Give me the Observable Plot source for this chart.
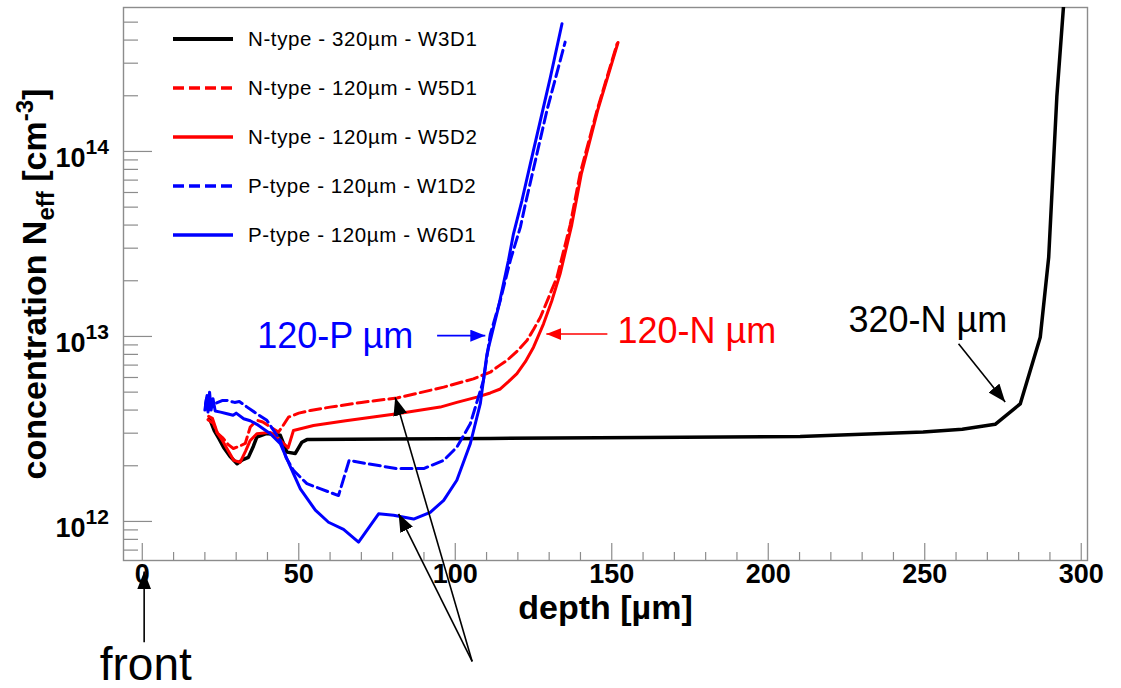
<!DOCTYPE html>
<html>
<head>
<meta charset="utf-8">
<script src="https://cdn.jsdelivr.net/npm/d3@7"></script>
<script src="https://cdn.jsdelivr.net/npm/@observablehq/plot@0.6"></script>
<style>
  body { margin: 0; background: #fff; }
  #chart { position: relative; width: 1121px; height: 688px; font-family: "Liberation Sans", Arial, Helvetica, sans-serif; }
  #legend { position: absolute; left: 0; top: 0; pointer-events: none; }
</style>
</head>
<body>
<div id="chart"></div>
<script>
// Effective doping concentration profiles, [depth in µm, N_eff in cm^-3]
const nW3D1 = [
  [21.5, 3.6e12], [23.0, 3.1e12], [24.5, 2.8e12], [26.0, 2.51e12], [28.0, 2.25e12],
  [30.3, 2.05e12], [32.0, 2.15e12], [33.9, 2.22e12], [35.5, 2.55e12], [36.6, 2.86e12],
  [39.8, 2.99e12], [44.1, 2.92e12], [46.2, 2.37e12], [48.9, 2.33e12], [51.0, 2.68e12],
  [52.6, 2.77e12], [80.0, 2.79e12], [111.2, 2.81e12], [160.0, 2.84e12], [210.2, 2.88e12],
  [249.5, 3.04e12], [262.0, 3.15e12], [272.5, 3.35e12], [280.5, 4.32e12], [286.9, 9.9e12],
  [289.6, 2.68e13], [292.2, 1.97e14], [294.6, 7.0e14]
];
const nW5D1 = [
  [21.0, 3.55e12], [22.7, 3.39e12], [24.0, 3.0e12], [25.6, 2.84e12], [27.5, 2.6e12],
  [29.1, 2.48e12], [31.0, 2.55e12], [32.9, 2.64e12], [34.5, 3.24e12], [36.6, 3.52e12],
  [38.5, 3.45e12], [40.9, 3.24e12], [43.5, 3.04e12], [45.0, 3.3e12], [46.7, 3.66e12],
  [50.0, 3.85e12], [53.7, 3.98e12], [60.0, 4.15e12], [70.0, 4.4e12], [81.4, 4.65e12],
  [96.3, 5.32e12], [105.8, 5.9e12], [111.2, 6.41e12], [113.7, 6.89e12], [116.5, 7.41e12],
  [119.7, 8.3e12], [122.9, 9.51e12], [125.0, 1.09e13], [127.2, 1.27e13], [130.0, 1.65e13],
  [132.5, 2.09e13], [136.7, 4.0e13], [139.9, 7.6e13], [145.3, 1.67e14], [151.7, 3.82e14]
];
const nW5D2 = [
  [21.2, 3.7e12], [22.4, 3.61e12], [24.0, 3.0e12], [25.6, 2.74e12], [27.5, 2.4e12],
  [29.2, 2.14e12], [31.3, 2.09e12], [33.0, 2.4e12], [34.5, 2.74e12], [36.6, 2.98e12],
  [40.9, 3.03e12], [44.1, 2.74e12], [46.6, 2.5e12], [48.3, 3.1e12], [54.7, 3.3e12],
  [65.0, 3.5e12], [81.4, 3.82e12], [95.2, 4.15e12], [100.5, 4.4e12], [106.9, 4.7e12],
  [111.2, 4.95e12], [114.4, 5.2e12], [117.0, 5.7e12], [119.7, 6.3e12], [122.4, 7.3e12],
  [125.0, 8.75e12], [128.2, 1.17e13], [130.8, 1.55e13], [133.5, 2.18e13], [137.2, 4.0e13],
  [140.3, 7.6e13], [145.5, 1.67e14], [152.0, 3.88e14]
];
const pW1D2 = [
  [20.2, 4.3e12], [20.7, 4.8e12], [21.2, 4.0e12], [21.7, 4.6e12], [22.4, 4.2e12],
  [23.5, 4.35e12], [25.5, 4.5e12], [27.1, 4.51e12], [29.5, 4.4e12], [31.0, 4.45e12],
  [33.5, 4.15e12], [36.6, 3.82e12], [39.8, 3.52e12], [42.0, 3.1e12], [44.1, 2.74e12],
  [46.0, 2.2e12], [48.3, 1.89e12], [52.6, 1.6e12], [57.0, 1.5e12], [62.7, 1.38e12],
  [66.1, 2.14e12], [72.0, 2.05e12], [81.4, 1.93e12], [89.9, 1.93e12], [96.3, 2.14e12],
  [100.5, 2.52e12], [104.8, 3.37e12], [109.0, 5.78e12], [111.2, 1.03e13], [114.4, 1.57e13],
  [117.6, 2.58e13], [120.8, 3.9e13], [122.4, 5.2e13], [129.3, 1.67e14], [135.1, 3.9e14]
];
const pW6D1 = [
  [20.0, 4.0e12], [20.5, 4.6e12], [21.0, 3.9e12], [21.5, 5.0e12], [22.0, 4.0e12],
  [22.6, 4.6e12], [23.3, 3.95e12], [25.0, 3.9e12], [27.1, 3.82e12], [29.0, 3.75e12],
  [30.0, 3.85e12], [32.4, 3.59e12], [34.5, 3.5e12], [36.6, 3.35e12], [40.9, 2.98e12],
  [44.1, 2.63e12], [47.3, 1.98e12], [50.5, 1.5e12], [55.3, 1.15e12], [59.5, 9.9e11],
  [64.3, 9.06e11], [69.1, 7.73e11], [75.5, 1.1e12], [80.3, 1.08e12], [86.7, 1.03e12],
  [92.0, 1.12e12], [96.3, 1.3e12], [100.5, 1.67e12], [104.8, 2.63e12], [108.0, 4.33e12],
  [110.1, 8.0e12], [113.8, 1.44e13], [117.0, 2.58e13], [118.6, 3.59e13], [121.3, 5.43e13],
  [124.0, 8.6e13], [130.4, 2.52e14], [134.1, 4.9e14]
];

const seriesNames = [
  "N-type - 320µm - W3D1",
  "N-type - 120µm - W5D1",
  "N-type - 120µm - W5D2",
  "P-type - 120µm - W1D2",
  "P-type - 120µm - W6D1"
];
const seriesData = [nW3D1, nW5D1, nW5D2, pW1D2, pW6D1];
const seriesColors = ["#000000", "#ff0000", "#ff0000", "#0000ff", "#0000ff"];
const seriesDash = [null, "11,5", null, "11,5", null];
const seriesWidths = [3.5, 3, 3, 3, 3];

// Axis ticks
const xMajorTicks = [0, 50, 100, 150, 200, 250, 300];
const xMinorTicks = [10, 20, 30, 40, 60, 70, 80, 90, 110, 120, 130, 140, 160, 170, 180, 190,
                     210, 220, 230, 240, 260, 270, 280, 290];
const yMajorTicks = [1e12, 1e13, 1e14];
const yExponents = ["12", "13", "14"];
const yMinorTicks = [7e11, 8e11, 9e11, 2e12, 3e12, 4e12, 5e12, 6e12, 7e12, 8e12, 9e12,
                     2e13, 3e13, 4e13, 5e13, 6e13, 7e13, 8e13, 9e13, 2e14, 3e14, 4e14, 5e14];

// Annotations
const noteTexts = [
  {x: 86.6, y: 1.0e13, text: "120-P µm", color: "#0000ff", anchor: "end", size: 36},
  {x: 151.8, y: 1.07e13, text: "120-N µm", color: "#ff0000", anchor: "start", size: 36},
  {x: 225.6, y: 1.22e13, text: "320-N µm", color: "#000000", anchor: "start", size: 36},
  {x: 1.1, y: 1.66e11, text: "front", color: "#000000", anchor: "middle", size: 46}
];
const colourArrows = [
  {x1: 94.2, y1: 1.01e13, x2: 109.6, y2: 1.01e13, color: "#0000ff"},
  {x1: 148.6, y1: 1.03e13, x2: 129.1, y2: 1.03e13, color: "#ff0000"}
];
const blackArrows = [
  {x1: 260.8, y1: 9.14e12, x2: 275.7, y2: 4.42e12},
  {x1: 105.4, y1: 1.75e11, x2: 80.8, y2: 4.68e12},
  {x1: 105.4, y1: 1.75e11, x2: 81.9, y2: 1.1e12},
  {x1: 0.6, y1: 2.22e11, x2: 0.6, y2: 5.37e11}
];

const yTitle = "concentration Neff [cm-3]";
const xTitle = "depth [µm]";

const W = 1121, H = 688;
const mTop = 7, mRight = 34, mBottom = 128, mLeft = 123;
const innerW = W - mLeft - mRight;
const innerH = H - mTop - mBottom;
const axisGray = "#8c8c8c";
const fontFamily = "Liberation Sans, Arial, Helvetica, sans-serif";

// Filled triangular arrow head, used as a link marker
function filledHead(len, wid) {
  return (color) => {
    const m = d3.create("svg:marker")
      .attr("viewBox", `${-len} ${-wid / 2} ${len} ${wid}`)
      .attr("markerUnits", "userSpaceOnUse")
      .attr("markerWidth", len)
      .attr("markerHeight", wid)
      .attr("refX", 0)
      .attr("refY", 0)
      .attr("orient", "auto");
    m.append("path")
      .attr("d", `M${-len},${-wid / 2}L0,0L${-len},${wid / 2}Z`)
      .attr("fill", color)
      .attr("stroke", "none");
    return m.node();
  };
}

const plot = Plot.plot({
  width: W,
  height: H,
  marginTop: mTop, marginRight: mRight, marginBottom: mBottom, marginLeft: mLeft,
  x: {domain: [-6, 302], axis: null},
  y: {type: "log", domain: [6.15e11, 6e14], axis: null},
  style: {fontFamily, background: "white", overflow: "visible"},
  marks: [
    // inward ticks
    Plot.ruleX(xMajorTicks, {x: d => d, stroke: axisGray, strokeWidth: 1.2, insetTop: innerH - 17}),
    Plot.ruleX(xMinorTicks, {x: d => d, stroke: axisGray, strokeWidth: 1.2, insetTop: innerH - 8}),
    Plot.ruleY(yMajorTicks, {y: d => d, stroke: axisGray, strokeWidth: 1.2, insetRight: innerW - 29}),
    Plot.ruleY(yMinorTicks, {y: d => d, stroke: axisGray, strokeWidth: 1.2, insetRight: innerW - 15}),
    Plot.frame({stroke: axisGray, strokeWidth: 1.4}),

    // profiles
    ...seriesData.map((data, i) => Plot.line(data, {
      x: d => d[0], y: d => d[1],
      stroke: seriesColors[i], strokeWidth: seriesWidths[i],
      strokeDasharray: seriesDash[i], strokeLinejoin: "round",
      clip: true
    })),

    // tick labels
    Plot.text(xMajorTicks, {
      x: d => d, text: d => String(d), frameAnchor: "bottom", dy: 22,
      fontSize: 27, fontWeight: "bold", fill: "black"
    }),
    Plot.text(yMajorTicks, {
      y: d => d, text: () => "10", frameAnchor: "left", textAnchor: "end",
      dx: -38, dy: 7, fontSize: 27, fontWeight: "bold", fill: "black"
    }),
    Plot.text(yMajorTicks, {
      y: d => d, text: (d, i) => yExponents[i], frameAnchor: "left", textAnchor: "start",
      dx: -38, dy: -4, fontSize: 21, fontWeight: "bold", fill: "black"
    }),

    // axis titles
    Plot.text([xTitle], {
      text: d => d, frameAnchor: "bottom", dy: 58,
      fontSize: 34, fontWeight: "bold", fill: "black"
    }),
    Plot.text([yTitle], {
      text: d => d, frameAnchor: "left", textAnchor: "middle", rotate: -90, dx: -88,
      fontSize: 34, fontWeight: "bold", fill: "black"
    }),

    // annotation arrows and labels
    Plot.link(colourArrows, {
      x1: "x1", y1: "y1", x2: "x2", y2: "y2", stroke: d => d.color,
      strokeWidth: 1.6, markerEnd: filledHead(15, 12)
    }),
    Plot.link(blackArrows, {
      x1: "x1", y1: "y1", x2: "x2", y2: "y2", stroke: "black",
      strokeWidth: 1.6, markerEnd: filledHead(18, 14)
    }),
    ...noteTexts.map(n => Plot.text([n], {
      x: "x", y: "y", text: "text", fill: n.color, textAnchor: n.anchor,
      fontSize: n.size
    }))
  ]
});

// Subscript and superscript in the y-axis title
d3.select(plot).selectAll("text")
  .filter(function () { return this.textContent === yTitle; })
  .each(function () {
    const t = d3.select(this);
    t.text(null);
    t.append("tspan").text("concentration N");
    t.append("tspan").attr("dy", 8).attr("font-size", 24).text("eff");
    t.append("tspan").attr("dy", -8).text(" [cm");
    t.append("tspan").attr("dy", -13).attr("font-size", 24).text("-3");
    t.append("tspan").attr("dy", 13).text("]");
  });

const chart = document.getElementById("chart");
chart.appendChild(plot);

// Legend in the upper-left corner of the frame
const legend = d3.select(chart).append("svg")
  .attr("id", "legend")
  .attr("width", W).attr("height", 280);
const rowTop = 39, rowStep = 49;
seriesNames.forEach((name, i) => {
  const y = rowTop + i * rowStep;
  legend.append("line")
    .attr("x1", 173).attr("x2", 233).attr("y1", y).attr("y2", y)
    .attr("stroke", seriesColors[i]).attr("stroke-width", seriesWidths[i] + 0.5)
    .attr("stroke-dasharray", seriesDash[i]);
  legend.append("text")
    .attr("x", 248).attr("y", y + 7)
    .attr("font-family", fontFamily).attr("font-size", 20.5)
    .attr("letter-spacing", 0.6)
    .attr("fill", "black")
    .text(name);
});
</script>
</body>
</html>
